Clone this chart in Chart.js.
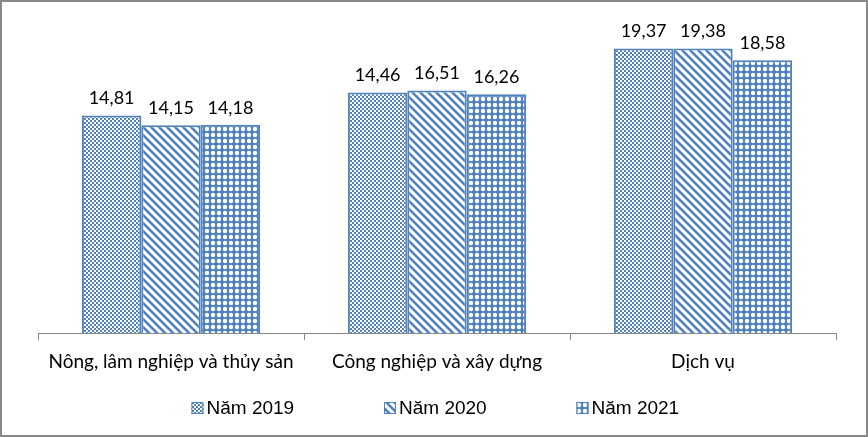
<!DOCTYPE html>
<html>
<head>
<meta charset="utf-8">
<script src="https://cdn.jsdelivr.net/npm/chart.js@4.4.0/dist/chart.umd.min.js"></script>
<style>
  body { margin: 0; background: #fff; }
  #wrap { width: 868px; height: 437px; }
</style>
</head>
<body>
<div id="wrap"><canvas id="chart" width="868" height="437"></canvas></div>
<script>
const categories = ['Nông, lâm nghiệp và thủy sản', 'Công nghiệp và xây dựng', 'Dịch vụ'];
const seriesNames = ['Năm 2019', 'Năm 2020', 'Năm 2021'];
// bar heights as drawn in the picture (the 2019 industry bar is drawn at ~16.4 though labelled 14,46)
const values2019 = [14.81, 16.38, 19.37];
const values2020 = [14.15, 16.51, 19.38];
const values2021 = [14.18, 16.26, 18.58];
// value labels as printed above the bars
const labels2019 = ['14,81', '14,46', '19,37'];
const labels2020 = ['14,15', '16,51', '19,38'];
const labels2021 = ['14,18', '16,26', '18,58'];

const BLUE = '#4F81BD';

// little tile patterns like the office fills
function makePattern(kind) {
    const c = document.createElement('canvas');
    const g = c.getContext('2d');
    if (kind === 'check') {
        c.width = 4; c.height = 4;
        g.fillStyle = BLUE; g.fillRect(0, 0, 4, 4);
        g.fillStyle = '#fff';
        g.fillRect(0, 0, 2, 2); g.fillRect(2, 2, 2, 2);
    } else if (kind === 'diag') {
        c.width = 8; c.height = 8;
        g.fillStyle = '#fff'; g.fillRect(0, 0, 8, 8);
        g.strokeStyle = BLUE; g.lineWidth = 2.6;
        g.beginPath();
        g.moveTo(-2, -2); g.lineTo(10, 10);
        g.moveTo(-10, -2); g.lineTo(2, 10);
        g.moveTo(6, -2); g.lineTo(18, 10);
        g.stroke();
    } else {
        c.width = 6; c.height = 6;
        g.fillStyle = BLUE; g.fillRect(0, 0, 6, 6);
        g.fillStyle = '#fff';
        g.beginPath(); g.arc(3, 3, 2.2, 0, Math.PI * 2); g.fill();
    }
    return g.createPattern(c, 'repeat');
}

const fills = [makePattern('check'), makePattern('diag'), makePattern('dots')];
const printed = [labels2019, labels2020, labels2021];

const framePlugin = {
    id: 'frame',
    beforeDraw(chart) {
        const ctx = chart.ctx;
        ctx.save();
        ctx.fillStyle = '#fff';
        ctx.fillRect(0, 0, chart.width, chart.height);
        ctx.strokeStyle = '#898989';
        ctx.lineWidth = 2;
        ctx.strokeRect(1, 1, chart.width - 2, chart.height - 2);
        ctx.restore();
    }
};

const valueLabels = {
    id: 'valueLabels',
    afterDatasetsDraw(chart) {
        const ctx = chart.ctx;
        ctx.save();
        ctx.font = '18px Lato';
        ctx.fillStyle = '#000';
        ctx.textAlign = 'center';
        ctx.textBaseline = 'bottom';
        chart.data.datasets.forEach((ds, i) => {
            chart.getDatasetMeta(i).data.forEach((bar, j) => {
                ctx.fillText(printed[i][j], bar.x, bar.y - 8);
            });
        });
        ctx.restore();
    }
};

const bottomLegend = {
    id: 'bottomLegend',
    afterDraw(chart) {
        const ctx = chart.ctx;
        const step = 192.5, box = 12;
        const left = chart.width / 2 - step - 50;
        const y = 408;
        ctx.save();
        ctx.font = '19px "Liberation Sans"';
        ctx.textBaseline = 'middle';
        chart.data.datasets.forEach((ds, i) => {
            const x = left + i * step;
            ctx.fillStyle = ds.backgroundColor;
            ctx.fillRect(x, y - box / 2, box, box);
            ctx.strokeStyle = BLUE; ctx.lineWidth = 1;
            ctx.strokeRect(x + 0.5, y - box / 2 + 0.5, box - 1, box - 1);
            ctx.fillStyle = '#000';
            ctx.fillText(ds.label, x + box + 3, y + 1);
        });
        ctx.restore();
    }
};

new Chart(document.getElementById('chart'), {
    type: 'bar',
    data: {
        labels: categories,
        datasets: [
            { label: seriesNames[0], data: values2019, backgroundColor: fills[0] },
            { label: seriesNames[1], data: values2020, backgroundColor: fills[1] },
            { label: seriesNames[2], data: values2021, backgroundColor: fills[2] }
        ].map(d => Object.assign(d, { borderColor: BLUE, borderWidth: 2, borderSkipped: 'bottom' }))
    },
    options: {
        responsive: false,
        animation: false,
        events: [],
        layout: { padding: { left: 38, right: 32, top: 10, bottom: 50 } },
        datasets: { bar: { categoryPercentage: 0.67, barPercentage: 1.0 } },
        plugins: { legend: { display: false }, tooltip: { enabled: false } },
        scales: {
            y: { display: false, min: 0, max: 22 },
            x: {
                afterFit(s) { s.height = 54; },
                border: { color: '#868686', width: 1 },
                grid: { drawOnChartArea: false, drawTicks: true, tickLength: 7, color: '#868686' },
                ticks: { color: '#000', padding: 10, font: { family: 'Lato', size: 19 } }
            }
        }
    },
    plugins: [framePlugin, valueLabels, bottomLegend]
});
</script>
</body>
</html>
